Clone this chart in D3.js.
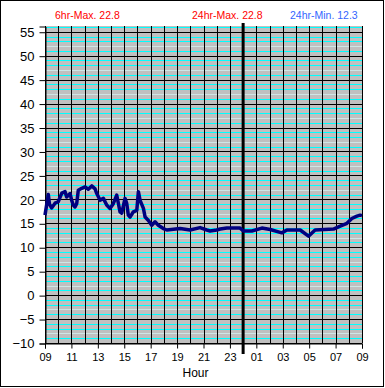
<!DOCTYPE html>
<html>
<head>
<meta charset="utf-8">
<script src="https://cdn.jsdelivr.net/npm/d3@7"></script>
<style>
  body { margin: 0; background: #fff; }
  text { font-family: "Liberation Sans", Arial, sans-serif; }
</style>
</head>
<body>
<svg></svg>
<script>
// hours since 09:00 and temperature readings
var hours = [0, 0.25, 0.34, 0.5, 0.76, 1.0, 1.27, 1.52, 1.64, 1.9, 2.02, 2.14, 2.27, 2.4,
  2.52, 2.78, 3.03, 3.28, 3.54, 3.79, 3.92, 4.17, 4.42, 4.67, 4.92, 5.17, 5.43, 5.68,
  5.81, 6.06, 6.19, 6.31, 6.44, 6.69, 6.95, 7.07, 7.2, 7.45, 7.58, 7.83, 8.08, 8.33,
  8.58, 8.96, 9.22, 10.23, 10.98, 11.74, 12.25, 12.5, 13.0, 13.26, 13.77, 14.77, 15.02,
  15.66, 16.42, 17.05, 17.93, 18.31, 19.32, 19.95, 20.45, 21.84, 22.35, 22.86, 23.23,
  23.61, 23.86, 24.0];
var temps = [16.7, 21.0, 19.0, 18.2, 19.2, 19.5, 21.3, 21.6, 20.5, 21.2, 19.8, 18.8, 18.4, 19.1,
  21.9, 22.3, 22.6, 22.1, 22.8, 22.2, 21.2, 19.8, 20.2, 18.8, 18.1, 19.1, 20.9, 17.4,
  17.1, 20.2, 19.1, 16.7, 16.3, 17.4, 17.7, 21.6, 19.8, 18.1, 16.3, 15.6, 14.6, 15.3,
  14.6, 13.9, 13.6, 13.9, 13.6, 14.1, 13.6, 13.4, 13.6, 13.8, 14.0, 14.0, 13.4,
  13.4, 14.0, 13.7, 13.0, 13.6, 13.6, 12.3, 13.6, 13.8, 14.4, 15.0, 16.0,
  16.5, 16.7, 16.6];
var hourLabels = ["09", "11", "13", "15", "17", "19", "21", "23", "01", "03", "05", "07", "09"];
var yTicks = [-10, -5, 0, 5, 10, 15, 20, 25, 30, 35, 40, 45, 50, 55];
var headers = ["6hr-Max. 22.8", "24hr-Max. 22.8", "24hr-Min. 12.3"];

function drawChart() {
  var width = 385, height = 388;
  var plotLeft = 45, plotRight = 362, plotTop = 26, plotBottom = 343;

  var svg = d3.select("svg").attr("width", width).attr("height", height);

  // outer frame
  svg.append("rect")
    .attr("x", 0.5).attr("y", 0.5)
    .attr("width", 383).attr("height", 386)
    .attr("fill", "#fff").attr("stroke", "#000");

  var x = d3.scaleLinear().domain([0, 24]).range([plotLeft, plotRight]);
  var y = d3.scaleLinear().domain([-10, 56.2]).range([plotBottom, plotTop]);

  // plot background
  svg.append("rect")
    .attr("x", plotLeft).attr("y", plotTop)
    .attr("width", plotRight - plotLeft).attr("height", plotBottom - plotTop)
    .attr("fill", "#c0c0c0");

  // minor horizontal lines every unit (one of each four drawn pale)
  var minor = d3.range(-9, 57).filter(function(v) { return v % 5 != 0; });
  svg.selectAll(".minor")
    .data(minor).enter().append("line")
    .attr("x1", plotLeft).attr("x2", plotRight)
    .attr("y1", function(d) { return Math.round(y(d)) + 0.5; })
    .attr("y2", function(d) { return Math.round(y(d)) + 0.5; })
    .attr("stroke", function(d) {
      return ((d % 5) + 5) % 5 == 2 ? "#cfe6e6" : "#00ffff";
    });

  // major horizontal lines
  svg.selectAll(".major")
    .data(yTicks).enter().append("line")
    .attr("x1", plotLeft).attr("x2", plotRight)
    .attr("y1", function(d) { return Math.round(y(d)) + 0.5; })
    .attr("y2", function(d) { return Math.round(y(d)) + 0.5; })
    .attr("stroke", "#000");

  // vertical lines each hour
  svg.selectAll(".vgrid")
    .data(d3.range(0, 25)).enter().append("line")
    .attr("x1", function(d) { return Math.round(x(d)) + 0.5; })
    .attr("x2", function(d) { return Math.round(x(d)) + 0.5; })
    .attr("y1", plotTop).attr("y2", plotBottom)
    .attr("stroke", "#000");

  // y axis
  var yAxis = svg.append("g")
    .attr("transform", "translate(" + (plotLeft + 0.5) + ",0.5)")
    .call(d3.axisLeft(y).tickValues(yTicks).tickSize(6).tickPadding(5));
  yAxis.select(".domain").attr("stroke", "#000");
  yAxis.selectAll("text").attr("font-size", 13).attr("fill", "#000")
    .attr("font-family", "Liberation Sans, Arial, sans-serif");

  // x axis
  var xAxis = svg.append("g")
    .attr("transform", "translate(0," + (plotBottom + 0.5) + ")")
    .call(d3.axisBottom(x).tickValues(d3.range(0, 25, 2))
      .tickFormat(function(d, i) { return hourLabels[i]; })
      .tickSize(5).tickPadding(5));
  xAxis.select(".domain").attr("stroke", "#000");
  xAxis.selectAll("text").attr("font-size", 11).attr("fill", "#000")
    .attr("font-family", "Liberation Sans, Arial, sans-serif");

  // midnight marker
  svg.append("line")
    .attr("x1", x(15)).attr("x2", x(15))
    .attr("y1", plotTop - 3).attr("y2", plotBottom + 11)
    .attr("stroke", "#000").attr("stroke-width", 3);

  // temperature trace
  var line = d3.line()
    .x(function(d, i) { return x(hours[i]); })
    .y(function(d) { return y(d); });
  svg.append("path")
    .datum(temps)
    .attr("d", line)
    .attr("fill", "none")
    .attr("stroke", "#000080")
    .attr("stroke-width", 3.5)
    .attr("stroke-linejoin", "round");

  // header texts
  var headerX = [55, 192, 290];
  var headerColor = ["#ff0000", "#ff0000", "#3366ff"];
  svg.selectAll(".header")
    .data(headers).enter().append("text")
    .attr("x", function(d, i) { return headerX[i]; })
    .attr("y", 19)
    .attr("font-size", 10.5)
    .attr("fill", function(d, i) { return headerColor[i]; })
    .text(function(d) { return d; });

  svg.append("text")
    .attr("x", (plotLeft + plotRight) / 2 - 8).attr("y", 377)
    .attr("text-anchor", "middle")
    .attr("font-size", 12)
    .text("Hour");
}

drawChart();
</script>
</body>
</html>
